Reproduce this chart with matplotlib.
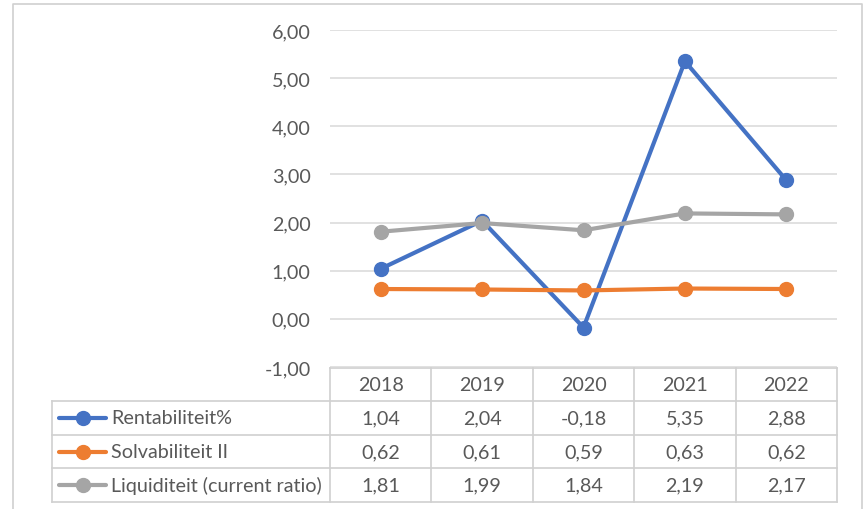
import matplotlib.pyplot as plt
import matplotlib.ticker as mticker

plt.rcParams['font.family'] = ['Lato', 'DejaVu Sans']

years = ['2018', '2019', '2020', '2021', '2022']
series_names = ['Rentabiliteit%', 'Solvabiliteit II', 'Liquiditeit (current ratio)']
rentabiliteit = [1.04, 2.04, -0.18, 5.35, 2.88]
solvabiliteit = [0.62, 0.61, 0.59, 0.63, 0.62]
liquiditeit = [1.81, 1.99, 1.84, 2.19, 2.17]
colors = ['#4472C4', '#ED7D31', '#A5A5A5']

W, H = 863, 510
text_col = '#595959'
grid_col = '#D9D9D9'
fs = 14.2

fig = plt.figure(figsize=(W / 100, H / 100), dpi=100)

# background axes in pixel coordinates, for frame and data table
bg = fig.add_axes([0, 0, 1, 1])
bg.set_xlim(0, W)
bg.set_ylim(H, 0)
bg.axis('off')

# outer chart frame
bg.plot([12.5, 12.5, 861.5, 861.5], [H + 5, 4.5, 4.5, H + 5], color='#D0D0D0', lw=1.2)

# plot area
x0, x1 = 330, 837
y_top, y_bot = 31, 368
ax = fig.add_axes([x0 / W, 1 - y_bot / H, (x1 - x0) / W, (y_bot - y_top) / H])
ax.set_xlim(-0.5, len(years) - 0.5)
ax.set_ylim(-1, 6)
ax.set_yticks(range(-1, 7))
ax.yaxis.set_major_formatter(mticker.FuncFormatter(lambda v, p: '{:.2f}'.format(v).replace('.', ',')))
ax.set_xticks([])
ax.grid(axis='y', color=grid_col, lw=1.1)
ax.set_axisbelow(True)
for s in ax.spines.values():
    s.set_visible(False)
ax.tick_params(axis='y', length=0, pad=14, labelsize=fs, labelcolor=text_col)

all_series = [rentabiliteit, solvabiliteit, liquiditeit]
for vals, c in zip(all_series, colors):
    ax.plot(range(len(years)), vals, color=c, lw=3, marker='o', markersize=10,
            solid_capstyle='round', zorder=3, clip_on=False)

# data table below plot
col_w = (x1 - x0) / len(years)
row_top = [369, 402, 436, 469, 503]
lab_x0 = 52
lc = '#D0D0D0'
# horizontal lines
bg.plot([x0, x1], [row_top[0], row_top[0]], color=lc, lw=1.2)
for yy in row_top[1:]:
    bg.plot([lab_x0, x1], [yy, yy], color=lc, lw=1.2)
# vertical lines
bg.plot([lab_x0, lab_x0], [row_top[1], row_top[-1]], color=lc, lw=1.2)
for i in range(len(years) + 1):
    xx = x0 + i * col_w
    bg.plot([xx, xx], [row_top[0], row_top[-1]], color=lc, lw=1.2)

for i, yr in enumerate(years):
    cx = x0 + (i + 0.5) * col_w
    cy = (row_top[0] + row_top[1]) / 2
    bg.text(cx, cy, yr, ha='center', va='center', fontsize=fs, color=text_col)

for r, (name, vals, c) in enumerate(zip(series_names, all_series, colors)):
    cy = (row_top[r + 1] + row_top[r + 2]) / 2
    bg.plot([59, 106], [cy, cy], color=c, lw=3, solid_capstyle='round')
    bg.plot([83], [cy], marker='o', color=c, markersize=10)
    bg.text(111, cy, name, ha='left', va='center', fontsize=fs, color=text_col)
    for i, v in enumerate(vals):
        cx = x0 + (i + 0.5) * col_w
        bg.text(cx, cy, '{:.2f}'.format(v).replace('.', ','), ha='center', va='center',
                fontsize=fs, color=text_col)

fig.savefig('out.png', dpi=100)
